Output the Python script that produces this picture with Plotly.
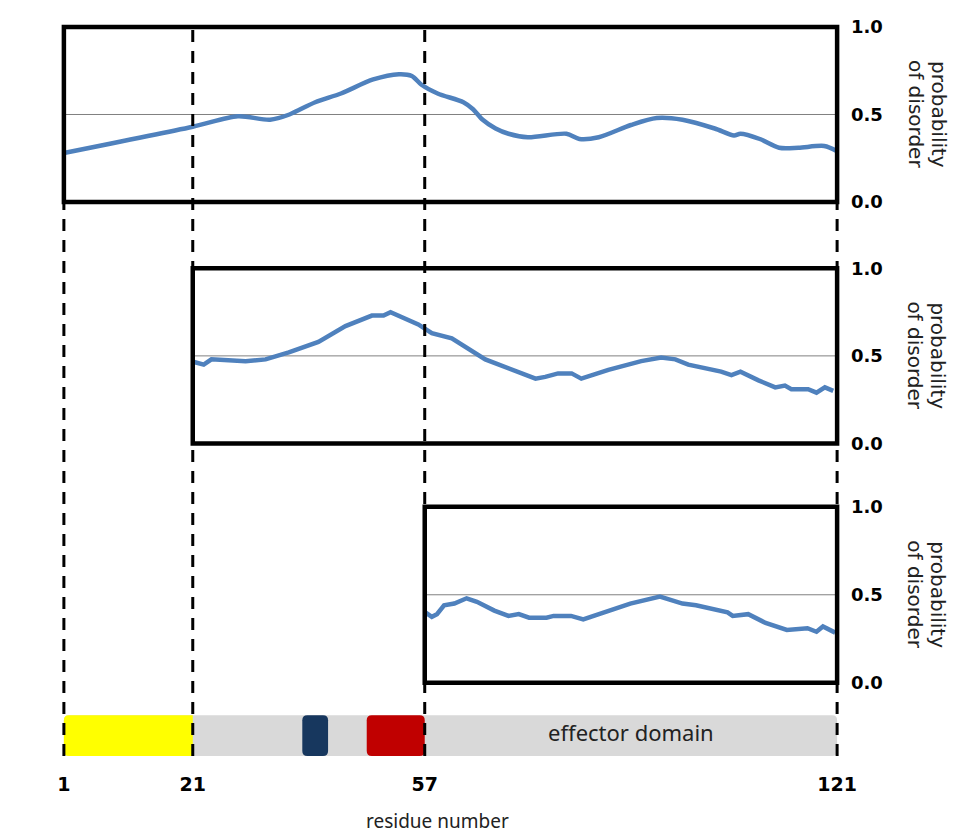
import plotly.graph_objects as go

# ---------------- data ----------------
residue_ticks = [1, 21, 57, 121]
residue_tick_labels = ["1", "21", "57", "121"]

prob_ticks = [0.0, 0.5, 1.0]
prob_tick_labels = ["0.0", "0.5", "1.0"]
threshold = 0.5

# panel 1: full-length protein (residues 1-121)
p1_res = [1, 21, 28, 33, 36, 40, 44, 49, 53, 55, 56.5, 59, 63, 64.5, 66, 68, 70, 73,
          79, 81, 84, 89, 93, 97, 102, 105, 106, 109, 112, 115, 119, 121]
p1_val = [0.28, 0.43, 0.49, 0.47, 0.50, 0.57, 0.62, 0.70, 0.73, 0.72, 0.67, 0.62, 0.57, 0.53,
          0.47, 0.42, 0.39, 0.37, 0.39, 0.36, 0.37, 0.44, 0.48, 0.47, 0.42, 0.38, 0.39, 0.36,
          0.31, 0.31, 0.32, 0.29]

# panel 2: residues 21-121
p2_res = [21.2, 22.7, 23.9, 29.2, 32.3, 35.9, 40.5, 44.7, 48.8, 50.6, 51.7, 56, 58.1, 61.2,
          66.4, 70.5, 74.2, 75.7, 77.7, 79.8, 81.3, 85.5, 90.6, 93.7, 95.9, 97.9, 103, 104.6,
          106, 108.8, 111.4, 112.9, 113.9, 116.5, 117.8, 119.1, 120.4]
p2_val = [0.465, 0.45, 0.48, 0.47, 0.48, 0.52, 0.58, 0.67, 0.73, 0.73, 0.75, 0.68, 0.63, 0.60,
          0.48, 0.42, 0.37, 0.38, 0.40, 0.40, 0.37, 0.42, 0.47, 0.49, 0.48, 0.45, 0.41, 0.39,
          0.41, 0.36, 0.32, 0.33, 0.31, 0.31, 0.29, 0.32, 0.30]

# panel 3: residues 57-121
p3_res = [57.1, 58.1, 58.9, 60, 61.6, 63.5, 65.1, 67.8, 70, 71.6, 73.2, 75.9, 77, 79.7, 81.6,
          84, 88.9, 93.5, 97, 99.1, 102.4, 104, 104.8, 107.2, 109.9, 112.1, 113.2, 116.4,
          117.8, 118.8, 120.7]
p3_val = [0.40, 0.375, 0.39, 0.44, 0.45, 0.48, 0.46, 0.41, 0.38, 0.39, 0.37, 0.37, 0.38, 0.38,
          0.36, 0.39, 0.45, 0.49, 0.45, 0.44, 0.41, 0.40, 0.38, 0.39, 0.34, 0.31, 0.30, 0.31,
          0.29, 0.32, 0.285]

panel_start = [1, 21, 57]
panel_end = 121

# domain bar
bar_start, bar_end = 1, 121
seg_start = [1, 38, 48]
seg_end = [21, 42, 57]
seg_colors = ["#FFFF00", "#17375E", "#C00000"]
seg_round_left = [True, True, True]
seg_round_right = [False, True, True]
effector_label = "effector domain"
effector_center = 89

# ---------------- layout helpers ----------------
# the page body has an 8px default margin, so the figure is drawn 8px in from the corner
OFF = 8
W, H = 948, 828
PW, PH = 799, 790
ML, MT = 51 - OFF, 10 - OFF
MR, MB = W - ML - PW, H - MT - PH
X_RANGE = [-1, 123]
px_per_res = PW / (X_RANGE[1] - X_RANGE[0])
PLOT_BOTTOM = MT + PH + OFF  # page pixel of plot-area bottom


def py(px):
    """paper y for a page pixel row"""
    return (PLOT_BOTTOM - px) / PH


def pxx(px):
    """paper x for a page pixel column"""
    return (px - (ML + OFF)) / PW


def ydomain(top, bot, lo, hi):
    s = bot - top
    return [py(bot - lo * s), py(bot - hi * s)]


panel_px = [(25, 200.5), (267, 442.5), (506, 682.5)]
PAN_RANGE = [-0.05, 1.05]
bar_px = (715, 756)
BAR_RANGE = [-0.25, 1.25]

LINE_BLUE = "#4F81BD"
tickfont = dict(family="DejaVu Sans", size=18, color="black", weight="bold")
xtickfont = dict(family="DejaVu Sans", size=19, color="black", weight="bold")

fig = go.Figure()

panels = [(p1_res, p1_val, "spline"), (p2_res, p2_val, "linear"), (p3_res, p3_val, "linear")]
for i, (r, v, shp) in enumerate(panels, start=1):
    fig.add_trace(go.Scatter(
        x=r, y=v, xaxis="x", yaxis="y" if i == 1 else f"y{i}", mode="lines",
        line=dict(color=LINE_BLUE, width=4.5, shape=shp, smoothing=0.8),
        hoverinfo="skip", showlegend=False))

fig.add_trace(go.Scatter(
    x=[effector_center], y=[0.5], xaxis="x", yaxis="y4", mode="text",
    text=[effector_label],
    textfont=dict(family="Noto Sans", size=22, color="#222222"),
    hoverinfo="skip", showlegend=False))


def rrect(x0, x1, y0, y1, rl=True, rr=True):
    rx = 5 / px_per_res
    ry = 5 / (bar_px[1] - bar_px[0])
    p = []
    if rl:
        p.append(f"M {x0 + rx},{y0}")
    else:
        p.append(f"M {x0},{y0}")
    if rr:
        p.append(f"L {x1 - rx},{y0} Q {x1},{y0} {x1},{y0 + ry} L {x1},{y1 - ry} Q {x1},{y1} {x1 - rx},{y1}")
    else:
        p.append(f"L {x1},{y0} L {x1},{y1}")
    if rl:
        p.append(f"L {x0 + rx},{y1} Q {x0},{y1} {x0},{y1 - ry} L {x0},{y0 + ry} Q {x0},{y0} {x0 + rx},{y0}")
    else:
        p.append(f"L {x0},{y1}")
    p.append("Z")
    return " ".join(p)


shapes = []
# domain bar
shapes.append(dict(type="path", xref="x", yref="y4", path=rrect(bar_start, bar_end, 0, 1),
                   fillcolor="#D9D9D9", line=dict(width=0), layer="below"))
for s, e, c, rl, rr in zip(seg_start, seg_end, seg_colors, seg_round_left, seg_round_right):
    shapes.append(dict(type="path", xref="x", yref="y4", path=rrect(s, e, 0, 1, rl, rr),
                       fillcolor=c, line=dict(width=0), layer="below"))

# threshold lines and panel boxes
for i, st in enumerate(panel_start, start=1):
    yr = "y" if i == 1 else f"y{i}"
    shapes.append(dict(type="line", xref="x", yref=yr, x0=st, x1=panel_end, y0=threshold, y1=threshold,
                       line=dict(color="#808080", width=1), layer="below"))
    shapes.append(dict(type="rect", xref="x", yref=yr, x0=st, x1=panel_end, y0=0, y1=1,
                       line=dict(color="black", width=4.5), fillcolor="rgba(0,0,0,0)", layer="above"))

# dashed guide lines
for r in residue_ticks:
    top = 200 if r == panel_end else 22
    shapes.append(dict(type="line", xref="x", yref="paper", x0=r, x1=r, y0=py(756), y1=py(top),
                       line=dict(color="black", width=3, dash="12px,9px"), layer="above"))

annotations = []
for (top, bot) in panel_px:
    yc = py((top + bot) / 2)
    annotations.append(dict(text="probability", xref="paper", yref="paper", x=pxx(938.5), y=yc,
                            textangle=90, showarrow=False, xanchor="center", yanchor="middle",
                            font=dict(family="DejaVu Sans", size=20, color="#222222")))
    annotations.append(dict(text="of disorder", xref="paper", yref="paper", x=pxx(915.5), y=yc,
                            textangle=90, showarrow=False, xanchor="center", yanchor="middle",
                            font=dict(family="DejaVu Sans", size=20, color="#222222")))
annotations.append(dict(text="residue number", xref="paper", yref="paper", x=pxx(437), y=py(821),
                        showarrow=False, xanchor="center", yanchor="middle",
                        font=dict(family="Noto Sans", size=19, color="#222222")))

yaxis_common = dict(side="right", anchor="x", range=PAN_RANGE, tickvals=prob_ticks,
                    ticktext=prob_tick_labels, ticks="", showgrid=False, zeroline=False,
                    showline=False, tickfont=tickfont, fixedrange=True)

fig.update_layout(
    width=W, height=H,
    margin=dict(l=ML, r=MR, t=MT, b=MB, pad=0),
    paper_bgcolor="white", plot_bgcolor="white",
    showlegend=False,
    xaxis=dict(range=X_RANGE, domain=[0, 1], anchor="free", position=py(771),
               tickvals=residue_ticks, ticktext=residue_tick_labels, ticks="",
               showgrid=False, zeroline=False, showline=False, tickfont=xtickfont, fixedrange=True),
    yaxis=dict(domain=ydomain(*panel_px[0], *PAN_RANGE), **yaxis_common),
    yaxis2=dict(domain=ydomain(*panel_px[1], *PAN_RANGE), **yaxis_common),
    yaxis3=dict(domain=ydomain(*panel_px[2], *PAN_RANGE), **yaxis_common),
    yaxis4=dict(domain=ydomain(*bar_px, *BAR_RANGE), anchor="x", range=BAR_RANGE, visible=False,
                fixedrange=True),
    shapes=shapes,
    annotations=annotations,
)

fig.write_html("out.html")
